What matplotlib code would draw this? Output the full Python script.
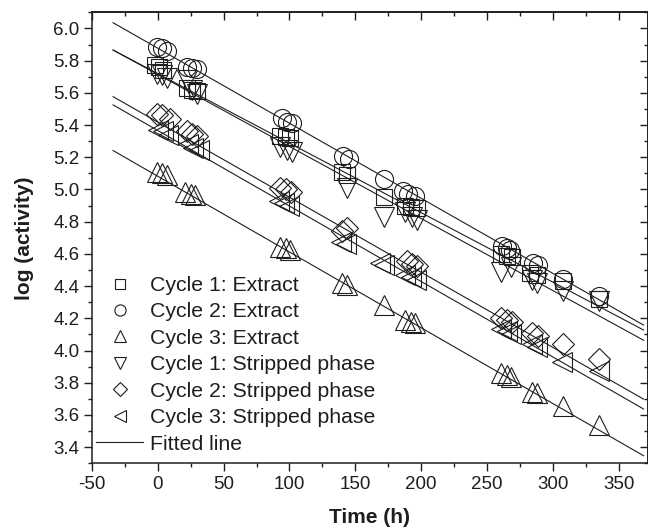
import numpy as np
import matplotlib
matplotlib.use("Agg")
import matplotlib.pyplot as plt
from matplotlib.ticker import MultipleLocator, FormatStrFormatter
from matplotlib.lines import Line2D

plt.rcParams['font.family'] = ['Liberation Sans', 'DejaVu Sans']
plt.rcParams['axes.unicode_minus'] = False

# ---- data ----
c1_ext_t = [-2, 1, 4, 22, 26, 30, 93, 97, 100.6, 140, 143.6, 171.5, 188, 192, 197, 261, 265, 269, 283, 288, 308, 335.5]
c1_ext_y = [5.77, 5.76, 5.74, 5.63, 5.62, 5.61, 5.33, 5.325, 5.32, 5.11, 5.09, 4.955, 4.90, 4.89, 4.885, 4.60, 4.59, 4.58, 4.48, 4.47, 4.43, 4.32]

c2_ext_t = [-0.6, 3.2, 7.0, 22.2, 26, 29.8, 94.3, 98.1, 101.9, 141, 145, 171.5, 186.6, 190.4, 195.5, 261.3, 265.2, 267.7, 285.3, 289.1, 308.1, 335.5]
c2_ext_y = [5.886, 5.876, 5.861, 5.762, 5.752, 5.746, 5.443, 5.422, 5.412, 5.205, 5.189, 5.068, 4.988, 4.975, 4.958, 4.648, 4.638, 4.627, 4.545, 4.530, 4.446, 4.340]

c3_ext_t = [-0.6, 3.2, 7, 21, 25, 28.5, 93, 97, 100.6, 140, 143.6, 171.5, 188, 192, 195.5, 261, 265, 268, 284, 288, 308, 335]
c3_ext_y = [5.11, 5.10, 5.09, 4.985, 4.975, 4.965, 4.645, 4.635, 4.625, 4.42, 4.41, 4.282, 4.19, 4.18, 4.17, 3.86, 3.85, 3.835, 3.745, 3.735, 3.653, 3.537]

c1_str_t = [-0.6, 3.2, 7, 22, 26, 30, 93, 98, 102, 144, 171.5, 188, 193, 197, 261, 268, 284, 288, 308, 335.5]
c1_str_y = [5.72, 5.71, 5.69, 5.68, 5.62, 5.59, 5.265, 5.247, 5.235, 5.01, 4.83, 4.86, 4.83, 4.81, 4.485, 4.52, 4.44, 4.42, 4.369, 4.307]

c2_str_t = [-1, 3, 9.5, 22, 26, 30, 93, 97, 101, 140, 144, 189, 193, 197, 261, 265, 269, 284, 289, 308, 335]
c2_str_y = [5.47, 5.46, 5.437, 5.36, 5.345, 5.33, 5.01, 5.0, 4.985, 4.74, 4.762, 4.555, 4.54, 4.524, 4.20, 4.19, 4.18, 4.11, 4.09, 4.039, 3.946]

c3_str_t = [0, 4, 8, 23, 27, 31, 92, 96, 100, 139, 143, 169, 171.5, 188, 192, 196, 261, 265, 268, 284, 288, 307, 335]
c3_str_y = [5.37, 5.36, 5.34, 5.28, 5.26, 5.245, 4.93, 4.915, 4.895, 4.675, 4.66, 4.545, 4.53, 4.47, 4.455, 4.44, 4.135, 4.12, 4.105, 4.04, 4.025, 3.926, 3.874]

labels = ["Cycle 1: Extract", "Cycle 2: Extract", "Cycle 3: Extract",
          "Cycle 1: Stripped phase", "Cycle 2: Stripped phase", "Cycle 3: Stripped phase"]

# fitted lines: intercept (t=0) and slope (per h)
fit_intercept = [5.714, 5.877, 5.082, 5.719, 5.418, 5.366]
fit_slope = [-0.004471, -0.004658, -0.004702, -0.004313, -0.00466, -0.004685]
fit_t_range = [-34, 369]

# ---- styling ----
ink = '#1e1e1e'
markers = ['s', 'o', '^', 'v', 'D', '<']
msizes = [12, 13, 15, 15, 11, 15]

fig = plt.figure(figsize=(6.48, 5.28), dpi=100)
ax = fig.add_axes([92/648, (528-463.3)/528, 555.5/648, 451/528])

series = [(c1_ext_t, c1_ext_y), (c2_ext_t, c2_ext_y), (c3_ext_t, c3_ext_y),
          (c1_str_t, c1_str_y), (c2_str_t, c2_str_y), (c3_str_t, c3_str_y)]

tt = np.array(fit_t_range, dtype=float)
for b, m in zip(fit_intercept, fit_slope):
    ax.plot(tt, b + m*tt, color=ink, lw=0.8, zorder=2)

for (t, y), mk, ms in zip(series, markers, msizes):
    ax.plot(t, y, ls='none', marker=mk, ms=ms, mfc='none', mec=ink, mew=0.8, zorder=3)

ax.set_xlim(-50, 372)
ax.set_ylim(3.3, 6.1)
ax.xaxis.set_major_locator(MultipleLocator(50))
ax.xaxis.set_minor_locator(MultipleLocator(25))
ax.yaxis.set_major_locator(MultipleLocator(0.2))
ax.yaxis.set_minor_locator(MultipleLocator(0.1))
ax.yaxis.set_major_formatter(FormatStrFormatter('%.1f'))

for s in ax.spines.values():
    s.set_linewidth(1.1)
    s.set_color(ink)

ax.tick_params(axis='both', which='major', direction='out', length=6, width=1.0,
               color=ink, labelsize=13.5, labelcolor=ink, pad=3)
ax.tick_params(axis='both', which='minor', direction='out', length=3, width=1.0, color=ink)
# inward ticks on top/right via secondary axes
sec_x = ax.secondary_xaxis('top')
sec_x.xaxis.set_major_locator(MultipleLocator(50))
sec_x.xaxis.set_minor_locator(MultipleLocator(25))
sec_x.tick_params(which='major', direction='in', length=6, width=1.0, color=ink, labeltop=False)
sec_x.tick_params(which='minor', direction='in', length=3, width=1.0, color=ink)
sec_x.spines['top'].set_linewidth(1.1)
sec_y = ax.secondary_yaxis('right')
sec_y.yaxis.set_major_locator(MultipleLocator(0.2))
sec_y.yaxis.set_minor_locator(MultipleLocator(0.1))
sec_y.tick_params(which='major', direction='in', length=6, width=1.0, color=ink, labelright=False)
sec_y.tick_params(which='minor', direction='in', length=3, width=1.0, color=ink)
sec_y.spines['right'].set_linewidth(1.1)
ax.tick_params(top=False, right=False, which='both')

ax.set_xlabel('Time (h)', fontsize=15, fontweight='bold', color=ink, labelpad=11)
ax.set_ylabel('log (activity)', fontsize=15, fontweight='bold', color=ink, labelpad=14)

handles = [Line2D([], [], ls='none', marker=mk, ms=ms, mfc='none', mec=ink, mew=0.8)
           for mk, ms in zip(markers, msizes)]
handles.append(Line2D([], [], color=ink, lw=0.8))
leg = ax.legend(handles, labels + ['Fitted line'], loc='lower left',
                bbox_to_anchor=(0.0, 0.012), frameon=False, fontsize=15.3,
                markerscale=0.62, handlelength=2.2, handletextpad=0.33,
                labelspacing=0.35, borderpad=0.0, borderaxespad=0.2)
for txt in leg.get_texts():
    txt.set_color(ink)

fig.savefig('out.png', dpi=100)
